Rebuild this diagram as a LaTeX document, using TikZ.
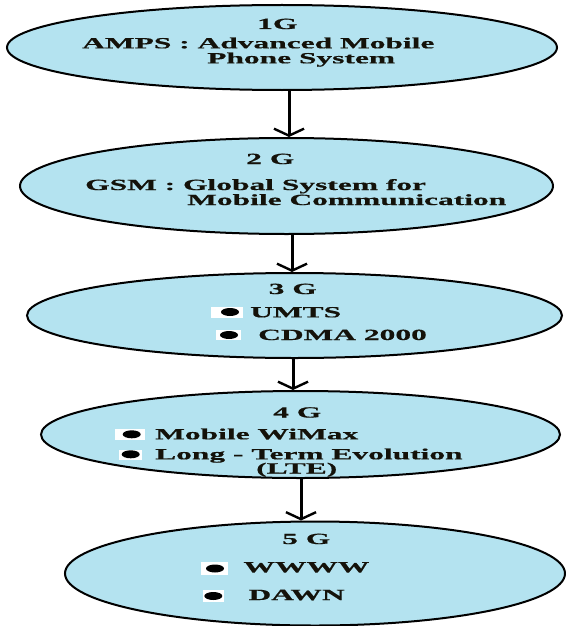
\documentclass[tikz,border=0pt]{standalone}
\usepackage{fontspec}
\setmainfont{Liberation Serif}
\newfontfamily\widefont[FakeStretch=2.03,FakeBold=0.6]{Liberation Serif Bold}
\usetikzlibrary{shapes.geometric,arrows.meta}
\definecolor{cellblue}{RGB}{180,227,240}
\definecolor{txt}{RGB}{20,18,10}
\begin{document}
\begin{tikzpicture}[x=1pt,y=-1pt,
  ell/.style={ellipse, draw=black, line width=2pt, fill=cellblue, inner sep=0pt},
  lbl/.style={anchor=base west, inner sep=0pt, text=txt, font=\widefont\fontsize{15.5}{15.5}\selectfont},
  bulletbg/.style={fill=white, inner sep=0pt, rectangle, anchor=north west},
  bulletdot/.style={fill=black, ellipse, inner sep=0pt, minimum width=18pt, minimum height=8pt},
  arr/.style={line width=3pt, -{Straight Barb[length=7pt,width=30pt,line width=2.4pt]}}]
\useasboundingbox (0,0) rectangle (565,626);

% ellipses
\node[ell, minimum width=550pt, minimum height=85pt] (e1) at (282,47.5) {};
\node[ell, minimum width=533pt, minimum height=96pt] (e2) at (286.5,186) {};
\node[ell, minimum width=535pt, minimum height=85pt] (e3) at (294.5,315.5) {};
\node[ell, minimum width=519pt, minimum height=87pt] (e4) at (300.5,434.5) {};
\node[ell, minimum width=500pt, minimum height=104pt] (e5) at (315,573.5) {};

% arrows
\coordinate (a1) at (289,0);
\coordinate (a2) at (292,0);
\coordinate (a3) at (293,0);
\coordinate (a4) at (301,0);
\draw[arr] (e1.south -| a1) -- (e2.north -| a1);
\draw[arr] (e2.south -| a2) -- (e3.north -| a2);
\draw[arr] (e3.south -| a3) -- (e4.north -| a3);
\draw[arr] (e4.south -| a4) -- (e5.north -| a4);

% 1G
\node[lbl] (t1a) at (257,29) {1G};
\node[lbl] (t1b) at (82,48.3) {AMPS : Advanced Mobile};
\node[lbl] (t1c) at (207,63.3) {Phone System};

% 2G
\node[lbl] (t2a) at (246,164) {2 G};
\node[lbl] (t2b) at (85,190) {GSM : Global System for};
\node[lbl] (t2c) at (187,205) {Mobile Communication};

% 3G
\node[lbl] (t3a) at (268.5,294) {3 G};
\node[bulletbg, minimum width=32pt, minimum height=10.6pt] (w31) at (210.7,306.7) {};
\node[bulletdot] (d31) at (230,312) {};
\node[lbl] (t3b) at (250,317.3) {UMTS};
\node[bulletbg, minimum width=24.7pt, minimum height=10pt] (w32) at (216,330) {};
\node[bulletdot] (d32) at (229,335) {};
\node[lbl] (t3c) at (258,340) {CDMA 2000};

% 4G
\node[lbl] (t4a) at (273,417.5) {4 G};
\node[bulletbg, minimum width=29.3pt, minimum height=11.7pt] (w41) at (115,428.3) {};
\node[bulletdot] (d41) at (131.7,434.3) {};
\node[lbl] (t4b) at (155,439.3) {Mobile WiMax};
\node[bulletbg, minimum width=23.4pt, minimum height=10pt] (w42) at (118.3,449.3) {};
\node[bulletdot] (d42) at (130.7,454.3) {};
\node[lbl] (t4c) at (155,459.3) {Long - Term Evolution};
\node[lbl] (t4d) at (256,473.5) {(LTE)};

% 5G
\node[lbl] (t5a) at (282,544) {5 G};
\node[bulletbg, minimum width=26.6pt, minimum height=13.3pt] (w51) at (200.7,561.7) {};
\node[bulletdot] (d51) at (215,568.5) {};
\node[lbl] (t5b) at (243.3,572.3) {WWWW};
\node[bulletbg, minimum width=21.3pt, minimum height=11.7pt] (w52) at (202.7,590) {};
\node[bulletdot] (d52) at (213.3,596) {};
\node[lbl] (t5c) at (248.3,600) {DAWN};
\end{tikzpicture}
\end{document}
